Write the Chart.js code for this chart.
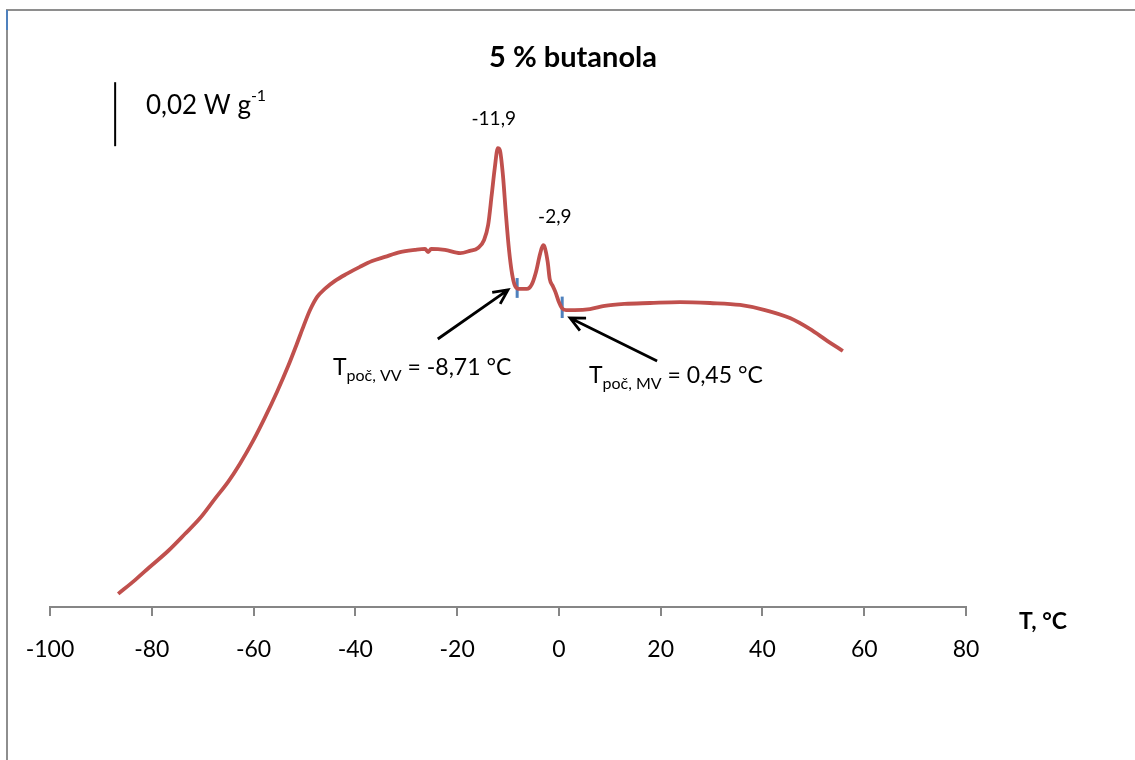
<!DOCTYPE html>
<html>
<head>
<meta charset="utf-8">
<script src="https://cdn.jsdelivr.net/npm/chart.js@4/dist/chart.umd.min.js"></script>
<style>
  html, body { margin: 0; padding: 0; background: #fff; }
  canvas { display: block; }
</style>
</head>
<body>
<canvas id="chart" width="1135" height="760"></canvas>
<script>
// DSC krivka, T v °C, tok tepla v mW/g (relativne, nula na osi)
const temps = [-86.6, -83.3, -80.4, -76.8, -73.5, -70.5, -67.6, -65.0, -62.7, -60.1,
  -57.8, -55.4, -53.2, -51.5, -50.1, -48.9, -47.5, -46.0, -44.0, -41.7,
  -39.1, -36.7, -34.2, -31.2, -28.3, -26.3, -25.7, -25.1, -22.4, -19.4,
  -17.5, -15.9, -14.7, -13.9, -13.2, -12.6, -12.0, -11.6, -11.0, -10.4,
  -9.8, -9.2, -8.6, -7.7, -6.3, -5.3, -4.5, -3.7, -3.1, -2.8,
  -2.2, -1.8, -1.2, -0.6, 0.0, 0.6, 1.4, 3.1, 6.1, 9.0,
  12.9, 17.9, 23.8, 29.7, 35.6, 40.5, 45.4, 49.3, 52.8, 55.8];
const heatFlow = [4.1, 8.4, 12.5, 17.5, 22.8, 27.8, 33.8, 39.1, 44.7, 51.9,
  59.1, 67.2, 75.3, 82.2, 88.1, 92.8, 96.9, 99.4, 101.9, 104.1,
  106.3, 108.1, 109.4, 110.9, 111.6, 111.9, 110.9, 111.9, 111.6, 110.6,
  111.3, 112.2, 114.7, 119.4, 128.8, 137.2, 143.4, 142.8, 135.0, 122.5,
  111.6, 104.1, 100.3, 99.4, 99.4, 100.9, 104.7, 110.3, 113.1, 112.5,
  107.8, 102.5, 100.3, 98.1, 95.3, 93.4, 92.8, 92.8, 93.1, 94.1,
  94.7, 95.0, 95.3, 95.0, 94.4, 92.8, 90.3, 86.9, 83.1, 80.0];

// pocatky tani (modre znacky)
const onsetVV = [{x: -8.2, y: 96.6}, {x: -8.2, y: 102.8}];
const onsetMV = [{x: 0.65, y: 90.3}, {x: 0.65, y: 97.0}];

const xTicks = [-100, -80, -60, -40, -20, 0, 20, 40, 60, 80];

const curve = temps.map((t, i) => ({x: t, y: heatFlow[i]}));

const FONT = 'Lato, "Open Sans", sans-serif';

function arrow(ctx, x1, y1, x2, y2) {
  const a = Math.atan2(y2 - y1, x2 - x1);
  const h = 16;
  ctx.beginPath();
  ctx.moveTo(x1, y1);
  ctx.lineTo(x2, y2);
  ctx.moveTo(x2 - h * Math.cos(a - 0.45), y2 - h * Math.sin(a - 0.45));
  ctx.lineTo(x2, y2);
  ctx.lineTo(x2 - h * Math.cos(a + 0.45), y2 - h * Math.sin(a + 0.45));
  ctx.stroke();
}

function subLabel(ctx, x, y, main, sub, rest, size) {
  ctx.textAlign = 'left';
  ctx.textBaseline = 'alphabetic';
  ctx.font = size + 'px ' + FONT;
  ctx.fillText(main, x, y);
  let w = ctx.measureText(main).width;
  ctx.font = Math.round(size * 0.68) + 'px ' + FONT;
  ctx.fillText(sub, x + w, y + 6);
  w += ctx.measureText(sub).width;
  ctx.font = size + 'px ' + FONT;
  ctx.fillText(rest, x + w, y);
}

const extras = {
  id: 'extras',
  afterDraw(chart) {
    const ctx = chart.ctx;
    const xs = chart.scales.x, ys = chart.scales.y;
    const px = v => xs.getPixelForValue(v), py = v => ys.getPixelForValue(v);
    ctx.save();

    // ramecek
    ctx.strokeStyle = '#8e8e8e';
    ctx.lineWidth = 2;
    ctx.beginPath();
    ctx.moveTo(7, 760);
    ctx.lineTo(7, 10);
    ctx.lineTo(1135, 10);
    ctx.stroke();
    ctx.strokeStyle = '#4f81bd';
    ctx.beginPath();
    ctx.moveTo(7, 10);
    ctx.lineTo(7, 30);
    ctx.stroke();

    ctx.fillStyle = '#000';
    // nadpis
    ctx.font = 'bold 29px ' + FONT;
    ctx.textAlign = 'center';
    ctx.textBaseline = 'middle';
    ctx.fillText('5 % butanola', 573, 58);

    // meritko 0,02 W/g
    ctx.strokeStyle = '#000';
    ctx.lineWidth = 2;
    ctx.beginPath();
    ctx.moveTo(px(-87.2), py(144));
    ctx.lineTo(px(-87.2), py(164));
    ctx.stroke();
    ctx.textAlign = 'left';
    ctx.font = '26px ' + FONT;
    ctx.fillText('0,02 W g', 146, 106);
    const w = ctx.measureText('0,02 W g').width;
    ctx.font = '16px ' + FONT;
    ctx.fillText('-1', 146 + w, 96);

    // vrcholy
    ctx.font = '19px ' + FONT;
    ctx.textAlign = 'center';
    ctx.fillText('-11,9', px(-12.8), py(152.5));
    ctx.fillText('-2,9', px(-0.8), py(121.9));

    // sipky
    ctx.lineWidth = 2.8;
    arrow(ctx, px(-23.8), py(83.75), px(-10.0), py(99.1));
    arrow(ctx, px(19.3), py(76.9), px(2.2), py(90.3));

    subLabel(ctx, 333, 375, 'T', 'poč, VV', ' = -8,71 °C', 23);
    subLabel(ctx, 589, 383, 'T', 'poč, MV', ' = 0,45 °C', 23);

    // popis osy
    ctx.font = 'bold 23px ' + FONT;
    ctx.textAlign = 'left';
    ctx.textBaseline = 'middle';
    ctx.fillText('T, °C', xs.right + 53, xs.top + 15);
    ctx.restore();
  }
};

new Chart(document.getElementById('chart'), {
  type: 'line',
  data: {
    datasets: [
      {data: curve, borderColor: '#c0504d', borderWidth: 3.8, pointRadius: 0,
       cubicInterpolationMode: 'monotone', fill: false},
      {data: onsetVV, borderColor: '#4f81bd', borderWidth: 3, pointRadius: 0},
      {data: onsetMV, borderColor: '#4f81bd', borderWidth: 3, pointRadius: 0}
    ]
  },
  options: {
    responsive: false,
    animation: false,
    layout: {padding: {left: 50, right: 169, top: 31, bottom: 0}},
    plugins: {legend: {display: false}, tooltip: {enabled: false}},
    scales: {
      x: {
        type: 'linear', min: -100, max: 80,
        afterBuildTicks: s => { s.ticks = xTicks.map(v => ({value: v})); },
        afterFit: s => { s.height = 153; },
        grid: {drawOnChartArea: false, color: '#868686', lineWidth: 2, tickLength: 9},
        border: {color: '#868686', width: 2},
        ticks: {color: '#000', font: {family: FONT, size: 23}, padding: 20, maxRotation: 0}
      },
      y: {type: 'linear', min: 0, max: 180, display: false}
    }
  },
  plugins: [extras]
});
</script>
</body>
</html>
